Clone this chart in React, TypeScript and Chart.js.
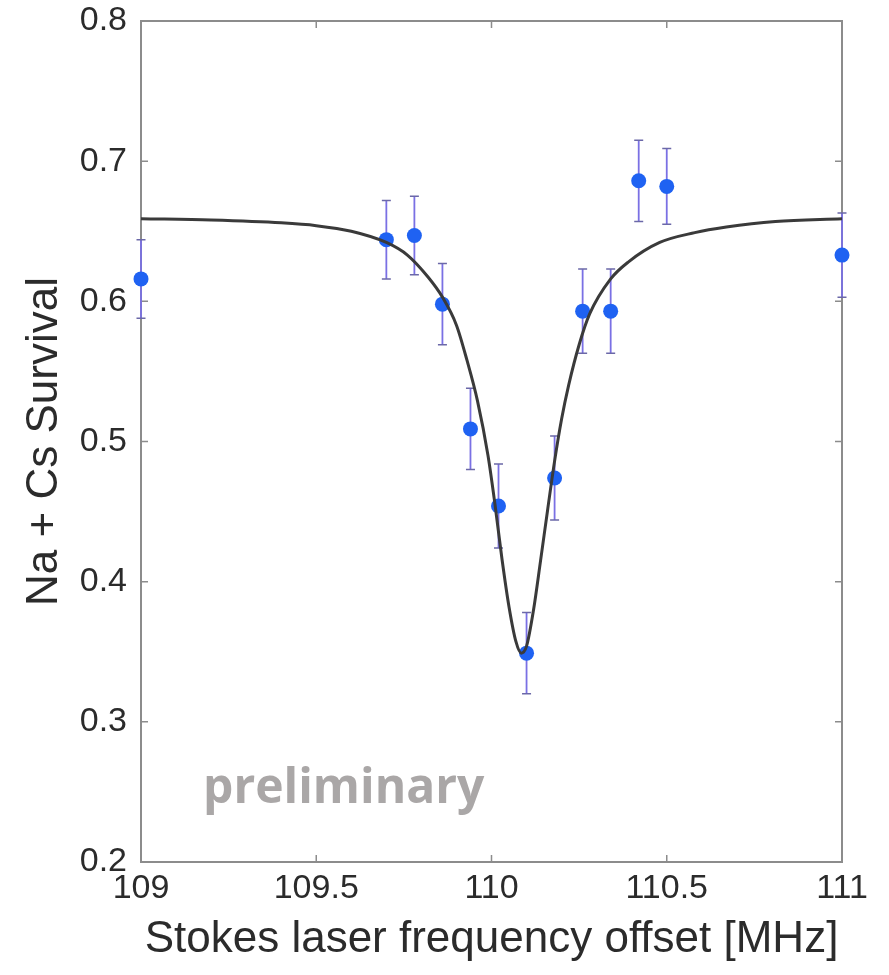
import React, { useEffect, useRef } from 'react';
import { Chart, registerables } from 'chart.js';

Chart.register(...registerables);

// Measured data points (Stokes laser frequency offset, MHz)
const freqs = [109.0, 109.7, 109.78, 109.86, 109.94, 110.02, 110.1, 110.18, 110.26, 110.34, 110.42, 110.5, 111.0];
const survival = [0.616, 0.644, 0.647, 0.598, 0.509, 0.454, 0.349, 0.474, 0.593, 0.593, 0.686, 0.682, 0.633];
const survivalErr = [0.028, 0.028, 0.028, 0.029, 0.029, 0.03, 0.029, 0.03, 0.03, 0.03, 0.029, 0.027, 0.03];

// Fit curve
const fitFreqs = [109.0, 109.2, 109.4, 109.5, 109.6, 109.7, 109.76, 109.82, 109.86, 109.9, 109.93, 109.96, 109.99, 110.01, 110.03, 110.05, 110.07, 110.085, 110.1, 110.12, 110.14, 110.16, 110.18, 110.2, 110.22, 110.25, 110.28, 110.34, 110.39, 110.48, 110.58, 110.67, 110.81, 111.0];
const fitSurvival = [0.659, 0.658, 0.656, 0.654, 0.65, 0.642, 0.633, 0.617, 0.603, 0.583, 0.558, 0.529, 0.49, 0.455, 0.416, 0.382, 0.357, 0.349, 0.354, 0.38, 0.415, 0.451, 0.486, 0.516, 0.54, 0.569, 0.591, 0.616, 0.628, 0.642, 0.649, 0.653, 0.657, 0.659];

const xTickValues = [109, 109.5, 110, 110.5, 111];
const xTickLabels = ['109', '109.5', '110', '110.5', '111'];
const yTickValues = [0.2, 0.3, 0.4, 0.5, 0.6, 0.7, 0.8];
const yTickLabels = ['0.2', '0.3', '0.4', '0.5', '0.6', '0.7', '0.8'];

const xTitle = 'Stokes laser frequency offset [MHz]';
const yTitle = 'Na + Cs Survival';
const watermark = 'preliminary';

const FONT = '"Liberation Sans", Arial, Helvetica, sans-serif';
const TEXT_COLOR = '#2b2b2b';
const AXIS_COLOR = '#8c8c8c';

const W = 889;
const H = 975;

const framePlugin = {
  id: 'frame',
  beforeDatasetsDraw(chart: any) {
    const { ctx, chartArea: a, scales } = chart;
    const x = scales.x;
    const y = scales.y;
    ctx.save();
    // box
    ctx.strokeStyle = AXIS_COLOR;
    ctx.lineWidth = 2;
    ctx.strokeRect(a.left, a.top, a.right - a.left, a.bottom - a.top);
    // inward ticks
    ctx.lineWidth = 1.5;
    const tl = 7;
    xTickValues.forEach((v) => {
      const px = x.getPixelForValue(v);
      ctx.beginPath();
      ctx.moveTo(px, a.bottom);
      ctx.lineTo(px, a.bottom - tl);
      ctx.moveTo(px, a.top);
      ctx.lineTo(px, a.top + tl);
      ctx.stroke();
    });
    yTickValues.forEach((v) => {
      const py = y.getPixelForValue(v);
      ctx.beginPath();
      ctx.moveTo(a.left, py);
      ctx.lineTo(a.left + tl, py);
      ctx.moveTo(a.right, py);
      ctx.lineTo(a.right - tl, py);
      ctx.stroke();
    });
    // error bars
    freqs.forEach((f, i) => {
      const px = x.getPixelForValue(f);
      const top = y.getPixelForValue(survival[i] + survivalErr[i]);
      const bot = y.getPixelForValue(survival[i] - survivalErr[i]);
      ctx.strokeStyle = '#7a70e4';
      ctx.lineWidth = 1.8;
      ctx.beginPath();
      ctx.moveTo(px, top);
      ctx.lineTo(px, bot);
      ctx.stroke();
      ctx.strokeStyle = '#6b68a8';
      ctx.lineWidth = 1.5;
      ctx.beginPath();
      ctx.moveTo(px - 4.5, top);
      ctx.lineTo(px + 4.5, top);
      ctx.moveTo(px - 4.5, bot);
      ctx.lineTo(px + 4.5, bot);
      ctx.stroke();
    });
    ctx.restore();
  },
  afterDraw(chart: any) {
    const { ctx, chartArea: a, scales } = chart;
    const x = scales.x;
    const y = scales.y;
    ctx.save();
    // axis titles
    ctx.fillStyle = TEXT_COLOR;
    ctx.font = `44px ${FONT}`;
    ctx.textAlign = 'center';
    ctx.textBaseline = 'middle';
    ctx.fillText(xTitle, (a.left + a.right) / 2, 940);
    ctx.translate(45, (a.top + a.bottom) / 2);
    ctx.rotate(-Math.PI / 2);
    ctx.fillText(yTitle, 0, 0);
    ctx.restore();
    // watermark
    ctx.save();
    ctx.fillStyle = '#aaa7a7';
    ctx.font = `bold 48px "Open Sans", Lato, sans-serif`;
    ctx.textAlign = 'left';
    ctx.textBaseline = 'alphabetic';
    ctx.fillText(watermark, x.getPixelForValue(109.177), y.getPixelForValue(0.2422));
    ctx.restore();
  },
};

export default function App() {
  const ref = useRef<HTMLCanvasElement | null>(null);

  useEffect(() => {
    document.body.style.margin = '0';
    const canvas = ref.current;
    if (!canvas) return;
    const chart = new Chart(canvas, {
      type: 'scatter',
      data: {
        datasets: [
          {
            type: 'line',
            label: 'fit',
            data: fitFreqs.map((f, i) => ({ x: f, y: fitSurvival[i] })),
            borderColor: '#3a3a3a',
            borderWidth: 3,
            pointRadius: 0,
            showLine: true,
            fill: false,
            cubicInterpolationMode: 'monotone',
            order: 0,
          } as any,
          {
            type: 'scatter',
            label: 'data',
            data: freqs.map((f, i) => ({ x: f, y: survival[i] })),
            backgroundColor: '#1f62f2',
            borderColor: '#1f62f2',
            borderWidth: 0,
            pointRadius: 7.5,
            clip: false,
            order: 1,
          } as any,
        ],
      },
      options: {
        responsive: false,
        animation: false,
        layout: { padding: { left: 0, top: 21, right: 47, bottom: 0 } },
        plugins: {
          legend: { display: false },
          tooltip: { enabled: false },
        },
        scales: {
          x: {
            type: 'linear',
            min: 109,
            max: 111,
            grid: { display: false, drawTicks: false },
            border: { display: false },
            afterBuildTicks: (s: any) => {
              s.ticks = xTickValues.map((v) => ({ value: v }));
            },
            afterFit: (s: any) => {
              s.height = 113;
              s.paddingLeft = 0;
              s.paddingRight = 0;
            },
            ticks: {
              color: TEXT_COLOR,
              font: { family: FONT, size: 34 },
              padding: 6,
              maxRotation: 0,
              autoSkip: false,
              callback: (v: any) => {
                const i = xTickValues.indexOf(Number(v));
                return i >= 0 ? xTickLabels[i] : '';
              },
            },
          },
          y: {
            type: 'linear',
            min: 0.2,
            max: 0.8,
            grid: { display: false, drawTicks: false },
            border: { display: false },
            afterBuildTicks: (s: any) => {
              s.ticks = yTickValues.map((v) => ({ value: v }));
            },
            afterFit: (s: any) => {
              s.width = 141;
              s.paddingTop = 0;
              s.paddingBottom = 0;
            },
            ticks: {
              color: TEXT_COLOR,
              font: { family: FONT, size: 34 },
              padding: 14,
              autoSkip: false,
              callback: (v: any) => {
                const i = yTickValues.findIndex((t) => Math.abs(t - Number(v)) < 1e-9);
                return i >= 0 ? yTickLabels[i] : '';
              },
            },
          },
        },
      },
      plugins: [framePlugin],
    });
    return () => chart.destroy();
  }, []);

  return <canvas ref={ref} width={W} height={H} style={{ display: 'block', width: W, height: H }} />;
}
